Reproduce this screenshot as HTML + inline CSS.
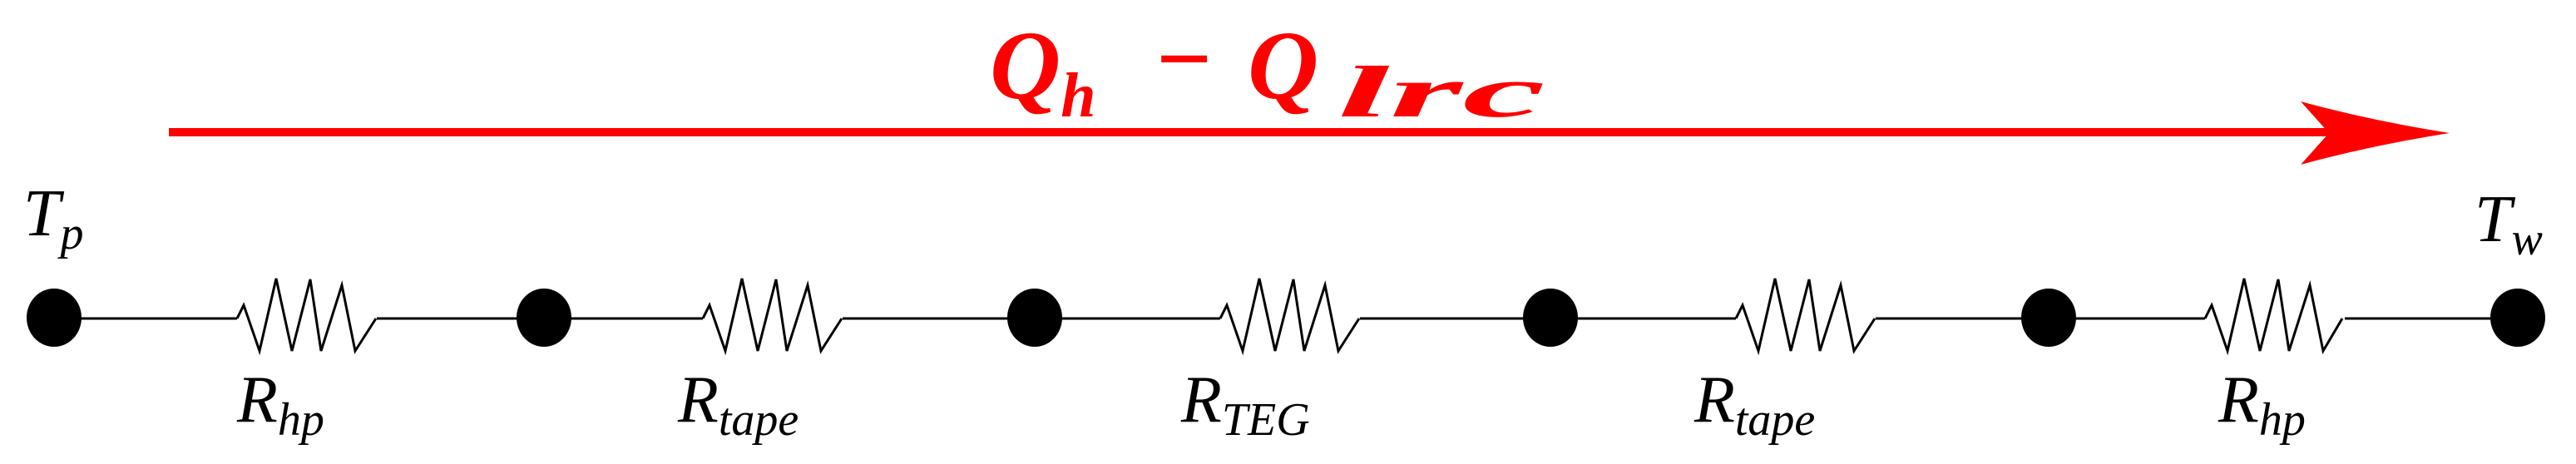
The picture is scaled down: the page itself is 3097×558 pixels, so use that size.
<!DOCTYPE html>
<html><head><meta charset="utf-8"><style>html,body{margin:0;padding:0;background:#fff}svg{display:block}</style></head>
<body>
<svg width="3097" height="558" viewBox="0 0 3097 558" xmlns="http://www.w3.org/2000/svg" font-family="Liberation Serif, serif" font-style="italic">
<rect width="3097" height="558" fill="#fff"/>
<line x1="203" y1="159" x2="2850" y2="159" stroke="#f00" stroke-width="10"/>
<path d="M2766,122 Q2850,145 2945,160 Q2850,175 2766,198 L2800,160 Z" fill="#f00"/>
<g font-size="118" font-weight="bold" fill="#f00">
<text x="1190" y="118">Q<tspan font-size="76" dy="22">h</tspan></text>
<text x="1390" y="110" font-style="normal">−</text>
<text x="1500" y="118">Q</text>
<text x="1608" y="140" font-size="88" textLength="250" lengthAdjust="spacingAndGlyphs">lrc</text>
</g>
<line x1="65" y1="383" x2="3026" y2="383" stroke="#000" stroke-width="3"/>
<g fill="none" stroke="#000" stroke-width="3">
<rect x="285" y="370" width="168" height="26" fill="#fff" stroke="none"/><polyline points="285,383 293,367 312,422 332,335 351,422 373,336 386,422 411,343 427,422 452,383"/>
<rect x="845" y="370" width="168" height="26" fill="#fff" stroke="none"/><polyline points="845,383 853,367 872,422 892,335 911,422 933,336 946,422 971,343 987,422 1012,383"/>
<rect x="1467" y="370" width="168" height="26" fill="#fff" stroke="none"/><polyline points="1467,383 1475,367 1494,422 1514,335 1533,422 1555,336 1568,422 1593,343 1609,422 1634,383"/>
<rect x="2087" y="370" width="168" height="26" fill="#fff" stroke="none"/><polyline points="2087,383 2095,367 2114,422 2134,335 2153,422 2175,336 2188,422 2213,343 2229,422 2254,383"/>
<rect x="2651" y="370" width="168" height="26" fill="#fff" stroke="none"/><polyline points="2651,383 2659,367 2678,422 2698,335 2717,422 2739,336 2752,422 2777,343 2793,422 2816,383"/>
</g>
<g fill="#000">
<ellipse cx="65" cy="382" rx="33" ry="35"/>
<ellipse cx="654" cy="382" rx="33" ry="35"/>
<ellipse cx="1244" cy="382" rx="33" ry="35"/>
<ellipse cx="1864" cy="382" rx="33" ry="35"/>
<ellipse cx="2463" cy="382" rx="33" ry="35"/>
<ellipse cx="3027" cy="382" rx="33" ry="35"/>
</g>
<g font-size="80" fill="#000">
<text x="28" y="283">T<tspan font-size="56" dy="16">p</tspan></text>
<text x="2975" y="290">T<tspan font-size="56" dy="16">w</tspan></text>
<text x="285" y="507">R<tspan font-size="56" dy="16">hp</tspan></text>
<text x="815" y="507">R<tspan font-size="56" dy="16">tape</tspan></text>
<text x="1420" y="507">R<tspan font-size="56" dy="16">TEG</tspan></text>
<text x="2037" y="507">R<tspan font-size="56" dy="16">tape</tspan></text>
<text x="2667" y="507">R<tspan font-size="56" dy="16">hp</tspan></text>
</g>
</svg>
</body></html>
